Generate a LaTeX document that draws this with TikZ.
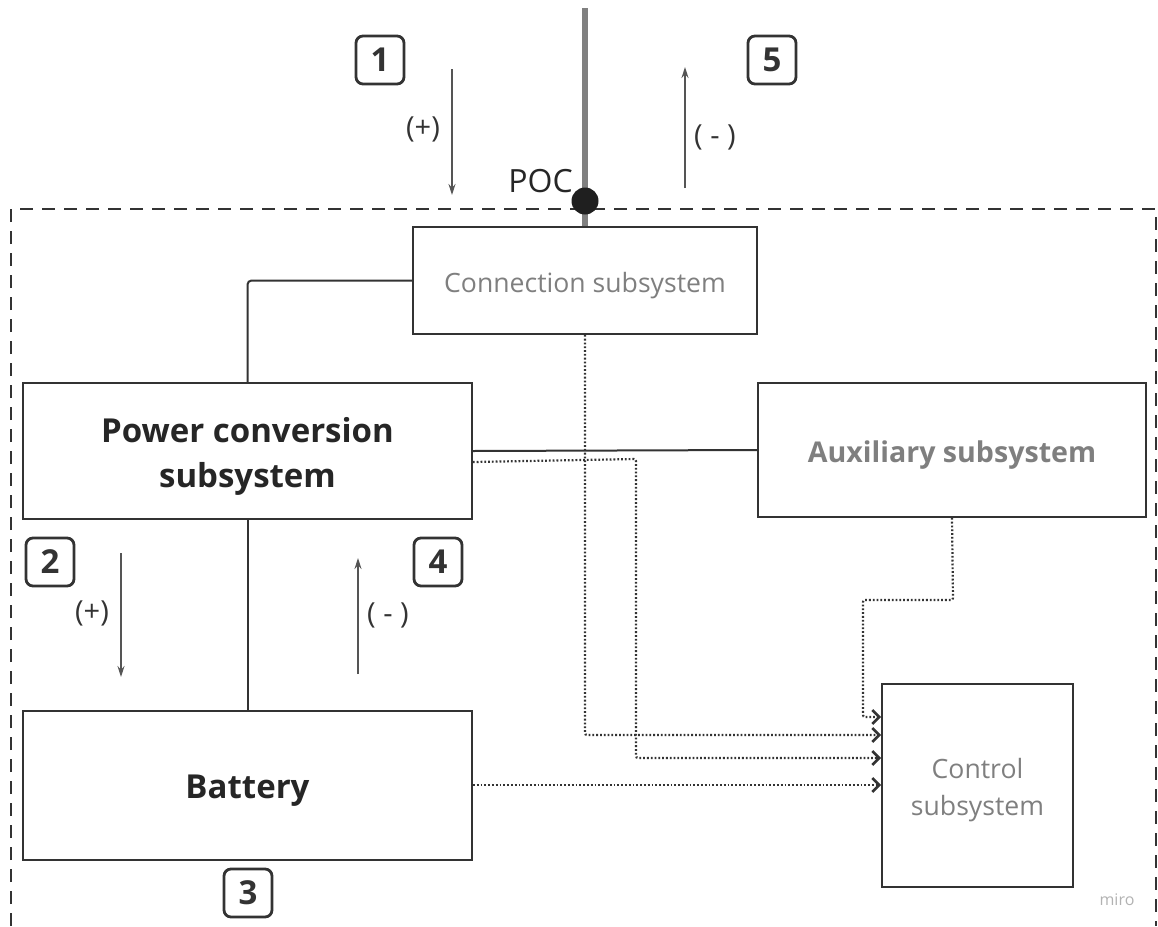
\documentclass[tikz,border=0pt]{standalone}
\usepackage{fontspec}
\setmainfont{Open Sans}
\usetikzlibrary{arrows.meta}
\definecolor{edge}{HTML}{333333}
\definecolor{txtgray}{HTML}{7F7F7F}
\definecolor{pocgray}{HTML}{808080}
\definecolor{arrgray}{HTML}{555555}
\tikzset{
  block/.style={draw=edge, line width=1.8pt, rectangle, inner sep=0pt},
  blocktext/.style={inner sep=0pt, align=center, yshift=-5pt},
  numbox/.style={draw=edge, line width=2.8pt, rounded corners=7pt, minimum width=48pt, minimum height=48pt, inner sep=0pt, font=\fontsize{33}{33}\selectfont\bfseries, text=edge},
  signlbl/.style={font=\fontsize{29}{29}\selectfont, text=edge, inner sep=0pt},
  flowarrow/.style={draw=arrgray, line width=1.3pt, -{Stealth[length=11pt,width=7pt]}},
  solidlink/.style={draw=edge, line width=2pt},
  ctrllink/.style={draw=edge, line width=2.2pt, dash pattern=on 1.8pt off 2pt, -{Straight Barb[length=7pt,width=14pt,line width=2.6pt,sep=0pt]}},
}
\begin{document}
\begin{tikzpicture}[x=1pt,y=-1pt]
\useasboundingbox (0,0) rectangle (1158,926);
% system boundary
\draw[edge, line width=2.4pt, dash pattern=on 13pt off 9pt] (11,926) -- (11,209) -- (1156,209) -- (1156,926);
% grid line
\coordinate (gridtop) at (585,8);
% blocks
\node[block, minimum width=344pt, minimum height=107pt] (conn) at (585,280.5) {};
\node[block, minimum width=449pt, minimum height=136pt] (pcs) at (247.5,451) {};
\node[block, minimum width=449pt, minimum height=149pt] (bat) at (247.5,785.5) {};
\node[block, minimum width=388pt, minimum height=134pt] (aux) at (952,450) {};
\node[block, minimum width=191pt, minimum height=203pt] (ctrl) at (977.5,785.5) {};
\node[blocktext, text=txtgray, font=\fontsize{26.6}{39}\selectfont] (connt) at (conn.center) {Connection subsystem};
\node[blocktext, font=\fontsize{33}{45}\selectfont\bfseries, text=black!85] (pcst) at (pcs.center) {Power conversion\\subsystem};
\node[blocktext, font=\fontsize{33}{45}\selectfont\bfseries, text=black!85] (batt) at (bat.center) {Battery};
\node[blocktext, font=\fontsize{28.6}{40}\selectfont\bfseries, text=txtgray] (auxt) at (aux.center) {Auxiliary subsystem};
\node[blocktext, font=\fontsize{26.6}{37}\selectfont, text=txtgray] (ctrlt) at (ctrl.center) {Control\\subsystem};
% grid connection
\draw[pocgray, line width=6pt] (gridtop) -- (conn.north);
\node[circle, fill=black!88, minimum size=27pt, inner sep=0pt] (poc) at (585,201) {};
\node[anchor=south east, inner sep=0pt, font=\fontsize{32}{32}\selectfont, text=black!85] (poclbl) at (573,193) {POC};
% number boxes
\node[numbox] (n1) at (380,60) {1};
\node[numbox] (n5) at (772,60) {5};
\node[numbox] (n2) at (50,562) {2};
\node[numbox] (n4) at (438,562) {4};
\node[numbox] (n3) at (248,893) {3};
% flow arrows
\coordinate (a1s) at (452,69); \coordinate (a1e) at (452,195);
\coordinate (a5s) at (685,188); \coordinate (a5e) at (685,67);
\coordinate (a2s) at (121,553); \coordinate (a2e) at (121,677);
\coordinate (a4s) at (358,674); \coordinate (a4e) at (358,558);
\draw[flowarrow] (a1s) -- (a1e);
\draw[flowarrow] (a5s) -- (a5e);
\draw[flowarrow] (a2s) -- (a2e);
\draw[flowarrow] (a4s) -- (a4e);
\node[signlbl] (s1) at (423,129) {(+)};
\node[signlbl] (s5) at (715,137) {( - )};
\node[signlbl] (s2) at (92,613) {(+)};
\node[signlbl] (s4) at (388,615) {( - )};
% power links
\draw[solidlink, rounded corners=4pt] (conn.west) -| (pcs.north);
\draw[solidlink] (pcs.east |- 0,451) -- (aux.west |- 0,450);
\draw[solidlink] (pcs.south) -- (bat.north);
% control links
\draw[ctrllink, rounded corners=2pt] (aux.south) -- (953,600) -- (863,600) -- (863,717) -- (ctrl.west |- 0,717);
\draw[ctrllink, rounded corners=2pt] (conn.south) -- (585,735) -- (ctrl.west |- 0,735);
\draw[ctrllink, rounded corners=2pt] (pcs.east |- 0,462) -- (636,459) -- (636,758) -- (ctrl.west |- 0,758);
\draw[ctrllink] (bat.east |- 0,785) -- (ctrl.west |- 0,785);
% watermark
\node[font=\fontsize{16}{16}\selectfont, text=black!30] (miro) at (1117,900) {miro};
\end{tikzpicture}
\end{document}
